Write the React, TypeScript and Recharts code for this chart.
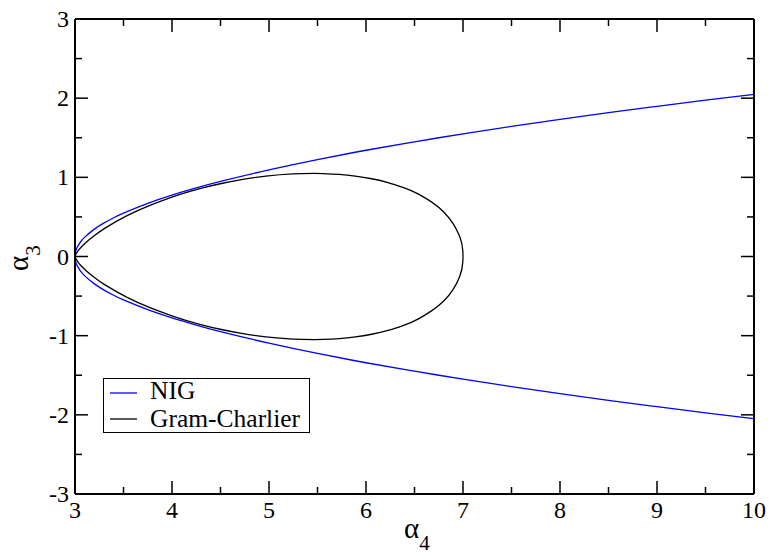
import React from 'react';
import { LineChart, Line, XAxis, YAxis } from 'recharts';

// NIG boundary (lower branch -> cusp at 3 -> upper branch)
const NIG_KURT = [10, 9.5, 9, 8.5, 8, 7.5, 7, 6.5, 6, 5.5, 5, 4.5, 4.25, 4, 3.75, 3.5, 3.4, 3.3, 3.2, 3.1, 3.05, 3.02, 3.01, 3.005, 3,
  3.005, 3.01, 3.02, 3.05, 3.1, 3.2, 3.3, 3.4, 3.5, 3.75, 4, 4.25, 4.5, 5, 5.5, 6, 6.5, 7, 7.5, 8, 8.5, 9, 9.5, 10];
const NIG_SKEW = [-2.049, -1.975, -1.897, -1.817, -1.732, -1.643, -1.549, -1.449, -1.342, -1.225, -1.095, -0.949, -0.866, -0.775, -0.671, -0.548, -0.490, -0.424, -0.346, -0.245, -0.173, -0.110, -0.077, -0.055, 0,
  0.055, 0.077, 0.110, 0.173, 0.245, 0.346, 0.424, 0.490, 0.548, 0.671, 0.775, 0.866, 0.949, 1.095, 1.225, 1.342, 1.449, 1.549, 1.643, 1.732, 1.817, 1.897, 1.975, 2.049];

// Gram-Charlier positivity region, closed loop (upper half out to 7, lower half back to 3)
const GC_KURT = [3, 3.007, 3.031, 3.058, 3.124, 3.191, 3.31, 3.537, 3.773, 4.0, 4.142, 4.306, 4.497, 4.716, 4.967, 5.248, 5.463, 5.559, 5.723, 5.89, 6.059, 6.226, 6.388, 6.541, 6.801, 6.965, 6.998, 7,
  6.998, 6.965, 6.801, 6.541, 6.388, 6.226, 6.059, 5.89, 5.723, 5.559, 5.463, 5.248, 4.967, 4.716, 4.497, 4.306, 4.142, 4.0, 3.773, 3.537, 3.31, 3.191, 3.124, 3.058, 3.031, 3.007, 3];
const GC_SKEW = [0, 0.024, 0.070, 0.110, 0.189, 0.256, 0.359, 0.516, 0.646, 0.75, 0.806, 0.863, 0.919, 0.971, 1.015, 1.043, 1.049, 1.047, 1.037, 1.016, 0.982, 0.934, 0.869, 0.787, 0.563, 0.255, 0.071, 0,
  -0.071, -0.255, -0.563, -0.787, -0.869, -0.934, -0.982, -1.016, -1.037, -1.047, -1.049, -1.043, -1.015, -0.971, -0.919, -0.863, -0.806, -0.75, -0.646, -0.516, -0.359, -0.256, -0.189, -0.110, -0.070, -0.024, 0];

const X_TICKS = [3, 3.5, 4, 4.5, 5, 5.5, 6, 6.5, 7, 7.5, 8, 8.5, 9, 9.5, 10];
const Y_TICKS = [-3, -2.5, -2, -1.5, -1, -0.5, 0, 0.5, 1, 1.5, 2, 2.5, 3];

const nigData = NIG_KURT.map((k, i) => ({ k, s: NIG_SKEW[i] }));
const gcData = GC_KURT.map((k, i) => ({ k, s: GC_SKEW[i] }));

const FONT = '"Liberation Serif", "Times New Roman", serif';
const MAJOR = 13;
const MINOR = 7;

const isMajor = (v: number) => Number.isInteger(v);

const BottomTick = (p: any) => {
  const v = p.payload.value;
  const len = isMajor(v) ? MAJOR : MINOR;
  return (
    <g>
      <line x1={p.x} y1={p.y} x2={p.x} y2={p.y - len} stroke="#000" strokeWidth={1.5} />
      {isMajor(v) && (
        <text x={p.x} y={p.y + 24} textAnchor="middle" fontFamily={FONT} fontSize={24} fill="#000">{v}</text>
      )}
    </g>
  );
};

const TopTick = (p: any) => {
  const v = p.payload.value;
  const len = isMajor(v) ? MAJOR : MINOR;
  return <line x1={p.x} y1={p.y} x2={p.x} y2={p.y + len} stroke="#000" strokeWidth={1.5} />;
};

const LeftTick = (p: any) => {
  const v = p.payload.value;
  const len = isMajor(v) ? MAJOR : MINOR;
  return (
    <g>
      <line x1={p.x} y1={p.y} x2={p.x + len} y2={p.y} stroke="#000" strokeWidth={1.5} />
      {isMajor(v) && (
        <text x={p.x - 6} y={p.y + 8} textAnchor="end" fontFamily={FONT} fontSize={24} fill="#000">{v}</text>
      )}
    </g>
  );
};

const RightTick = (p: any) => {
  const v = p.payload.value;
  const len = isMajor(v) ? MAJOR : MINOR;
  return <line x1={p.x} y1={p.y} x2={p.x - len} y2={p.y} stroke="#000" strokeWidth={1.5} />;
};

export default function App() {
  return (
    <div style={{ position: 'absolute', left: 0, top: 0, width: 771, height: 555, background: '#fff' }}>
      <LineChart width={771} height={555} margin={{ top: 0, right: 0, bottom: 0, left: 0 }}>
        <XAxis dataKey="k" type="number" domain={[3, 10]} ticks={X_TICKS} xAxisId="b" orientation="bottom"
          height={61} tickSize={0} tickMargin={0} tickLine={false} tick={BottomTick}
          axisLine={{ stroke: '#000', strokeWidth: 2 }} allowDataOverflow interval={0} />
        <XAxis dataKey="k" type="number" domain={[3, 10]} ticks={X_TICKS} xAxisId="t" orientation="top"
          height={19} tickSize={0} tickMargin={0} tickLine={false} tick={TopTick}
          axisLine={{ stroke: '#000', strokeWidth: 2 }} allowDataOverflow interval={0} />
        <YAxis dataKey="s" type="number" domain={[-3, 3]} ticks={Y_TICKS} yAxisId="l" orientation="left"
          width={75} tickSize={0} tickMargin={0} tickLine={false} tick={LeftTick}
          axisLine={{ stroke: '#000', strokeWidth: 2 }} allowDataOverflow interval={0} />
        <YAxis dataKey="s" type="number" domain={[-3, 3]} ticks={Y_TICKS} yAxisId="r" orientation="right"
          width={17} tickSize={0} tickMargin={0} tickLine={false} tick={RightTick}
          axisLine={{ stroke: '#000', strokeWidth: 2 }} allowDataOverflow interval={0} />
        <Line data={nigData} dataKey="s" xAxisId="b" yAxisId="l" type="natural" stroke="#0000ff"
          strokeWidth={1.3} dot={false} isAnimationActive={false} />
        <Line data={gcData} dataKey="s" xAxisId="b" yAxisId="l" type="natural" stroke="#000"
          strokeWidth={1.3} dot={false} isAnimationActive={false} />
      </LineChart>

      {/* axis titles and legend */}
      <svg width={771} height={555} style={{ position: 'absolute', left: 0, top: 0, pointerEvents: 'none' }}>
        <text x={404} y={538} fontFamily={FONT} fontSize={29} fill="#000">
          α<tspan dy={12} fontSize={21}>4</tspan>
        </text>
        <text transform="translate(28,271) rotate(-90)" fontFamily={FONT} fontSize={29} fill="#000">
          α<tspan dy={12} fontSize={21}>3</tspan>
        </text>

        <rect x={103.5} y={378.5} width={206} height={54} fill="#fff" stroke="#000" strokeWidth={1} />
        <line x1={110} y1={393} x2={137} y2={393} stroke="#0000ff" strokeWidth={1.3} />
        <text x={150} y={399} fontFamily={FONT} fontSize={25.5} fill="#000">NIG</text>
        <line x1={110} y1={419} x2={137} y2={419} stroke="#000" strokeWidth={1.3} />
        <text x={150} y={427} fontFamily={FONT} fontSize={25.5} fill="#000">Gram-Charlier</text>
      </svg>
    </div>
  );
}
